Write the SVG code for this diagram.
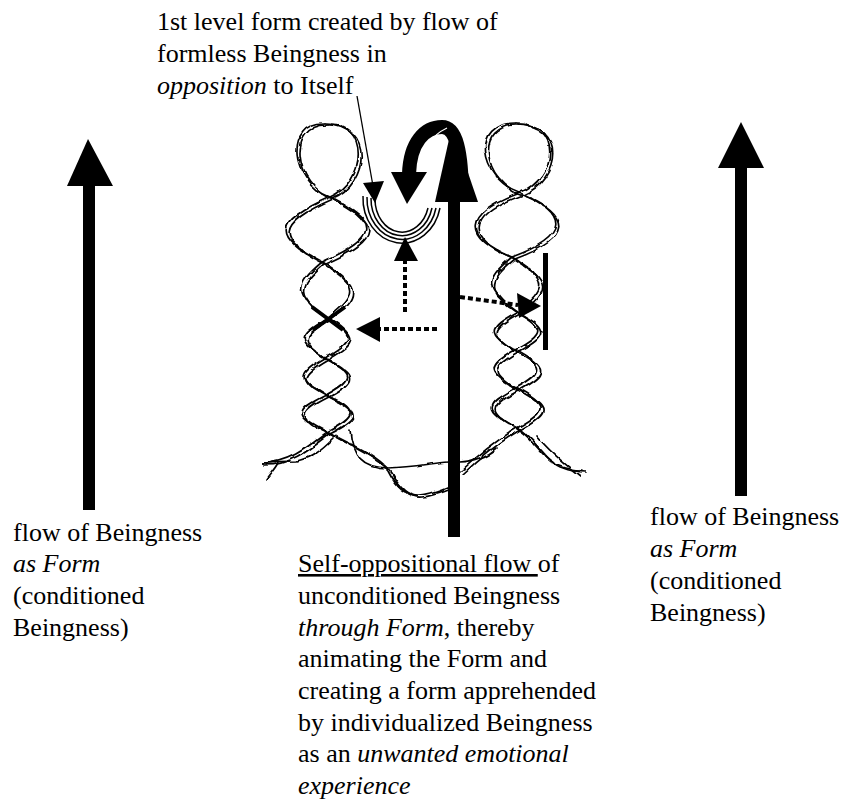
<svg xmlns="http://www.w3.org/2000/svg" xmlns:xlink="http://www.w3.org/1999/xlink" width="843" height="801" viewBox="0 0 843 801" font-family="'Liberation Serif', 'Times New Roman', serif">
<style>
text{font-family:"Liberation Serif","Times New Roman",serif;font-size:26px;fill:#000}
.it{font-style:italic}
.strand{fill:none;stroke:#000;stroke-width:1.7;stroke-linejoin:round;stroke-linecap:round}
.solid{fill:#000;stroke:none}
.dots{fill:none;stroke:#000;stroke-width:4;stroke-dasharray:5 3}
.thin{fill:none;stroke:#000;stroke-width:1.3}
.arc{fill:none;stroke:#000;stroke-width:1.5}
</style>
<defs>
<filter id="rough1" x="-10%" y="-5%" width="120%" height="110%">
<feTurbulence type="fractalNoise" baseFrequency="0.06" numOctaves="2" seed="2" result="n"/>
<feDisplacementMap in="SourceGraphic" in2="n" scale="5" xChannelSelector="R" yChannelSelector="G"/>
</filter>
<filter id="rough2" x="-10%" y="-5%" width="120%" height="110%">
<feTurbulence type="fractalNoise" baseFrequency="0.07" numOctaves="2" seed="9" result="n"/>
<feDisplacementMap in="SourceGraphic" in2="n" scale="5" xChannelSelector="R" yChannelSelector="G"/>
</filter>
</defs>
<rect width="843" height="801" fill="#fff"/>

<g id="left-flow">
<rect class="solid" x="83" y="184" width="12" height="326"/>
<polygon class="solid" points="67,186 113,186 88,139"/>
<g font-family="'Liberation Serif', 'Times New Roman', serif" font-size="26">
<text x="13" y="541">flow of Beingness</text>
<text x="13" y="572" class="it">as Form</text>
<text x="13" y="604">(conditioned</text>
<text x="13" y="636">Beingness)</text>
</g>
</g>

<g id="right-flow">
<rect class="solid" x="735" y="166" width="12" height="330"/>
<polygon class="solid" points="718,168 764,168 741,122"/>
<g font-family="'Liberation Serif', 'Times New Roman', serif" font-size="26">
<text x="650" y="525">flow of Beingness</text>
<text x="650" y="557" class="it">as Form</text>
<text x="650" y="589">(conditioned</text>
<text x="650" y="621">Beingness)</text>
</g>
</g>

<g id="left-braid">
<g filter="url(#rough1)">
<g id="lb-strands" class="strand">
<path d="M325,123 C284,122 290,182 330,197 C379,222 379,237 322,262 C294,286 294,294 327,318 C355,335 355,341 325,358 C297,374 297,379 326,395 C358,411 358,416 327,432 C310,445 290,463 262,463"/>
<path d="M325,123 C371,122 366,182 330,197 C273,222 273,237 322,262 C358,286 358,294 327,318 C297,335 297,341 325,358 C355,374 355,379 326,395 C294,411 294,416 327,432 C350,445 375,455 388,470 C398,490 410,496 420,495 C432,494 440,490 448,487"/>
</g>
<path class="strand" d="M262,463 L296,462 C312,458 322,450 334,438"/>
<path class="strand" d="M350,430 C352,455 362,468 388,468 C415,467 432,463 448,462"/>
<path class="strand" d="M278,463 C274,470 270,474 266,480"/>
</g>
<use xlink:href="#lb-strands" href="#lb-strands" transform="translate(3,2)" filter="url(#rough2)"/>
<path d="M312,307 L343,330 M313,330 L345,307" fill="none" stroke="#000" stroke-width="4"/>
</g>

<g id="right-braid">
<g filter="url(#rough1)">
<g id="rb-strands" class="strand">
<path d="M515,123 C472,122 478,178 520,193 C569,214 569,236 512,257 C484,280 484,289 517,312 C545,328 545,334 515,350 C487,366 487,372 516,388 C548,405 548,411 517,428 C497,440 478,455 460,472"/>
<path d="M515,123 C563,122 558,178 520,193 C463,214 463,236 512,257 C548,280 548,289 517,312 C487,328 487,334 515,350 C545,366 545,372 516,388 C484,405 484,411 517,428 C535,440 545,462 560,466 C567,469 575,470 582,470"/>
</g>
<path class="strand" d="M537,436 C548,450 562,462 580,476"/>
<path class="strand" d="M460,462 C474,461 486,458 497,448"/>
</g>
<use xlink:href="#rb-strands" href="#rb-strands" transform="translate(3,2)" filter="url(#rough2)"/>
<rect class="solid" x="543" y="253" width="5" height="97"/>
</g>

<g id="first-form">
<path class="arc" d="M363,196 A39 45 0 0 0 440,208"/>
<path class="arc" d="M367,197 A35 41 0 0 0 436,208"/>
<path class="arc" d="M371,198 A31 37 0 0 0 432,208"/>
<path class="arc" d="M375,199 A27 33 0 0 0 428,208"/>
</g>

<g id="main-flow">
<rect class="solid" x="448" y="195" width="12" height="342"/>
<path d="M409,174 C410,142 425,127 442,127 C456,127 462,150 462,200" fill="none" stroke="#000" stroke-width="14"/>
<polygon class="solid" points="435,202 478,202 452,126"/>
<polygon class="solid" points="391,172 427,172 407,204"/>
<path d="M447,128 C432,135 421,150 418,172" fill="none" stroke="#fff" stroke-width="1.2"/>
</g>

<g id="connectors">
<path class="thin" d="M357,96 L373,186"/>
<polygon class="solid" points="363,183 384,181 375,203"/>
<path class="dots" d="M405,312 L405,260"/>
<polygon class="solid" points="394,261 418,261 405,237"/>
<path class="dots" d="M437,329 L380,329"/>
<polygon class="solid" points="380,317 380,342 356,329"/>
<path class="dots" d="M460,297 L518,305"/>
<polygon class="solid" points="517,293 519,318 541,306"/>
</g>

<g id="top-label" font-family="'Liberation Serif', 'Times New Roman', serif" font-size="26">
<text x="157" y="30">1st level form created by flow of</text>
<text x="157" y="62">formless Beingness in</text>
<text x="157" y="94"><tspan class="it">opposition</tspan> to Itself</text>
</g>

<g id="center-label" font-family="'Liberation Serif', 'Times New Roman', serif" font-size="26">
<text x="298" y="572"><tspan text-decoration="underline">Self-oppositional flow </tspan>of</text>
<text x="298" y="604">unconditioned Beingness</text>
<text x="298" y="636"><tspan class="it">through Form</tspan>, thereby</text>
<text x="298" y="667">animating the Form and</text>
<text x="298" y="699">creating a form apprehended</text>
<text x="298" y="731">by individualized Beingness</text>
<text x="298" y="762">as an <tspan class="it">unwanted emotional</tspan></text>
<text x="298" y="794" class="it">experience</text>
</g>
</svg>
